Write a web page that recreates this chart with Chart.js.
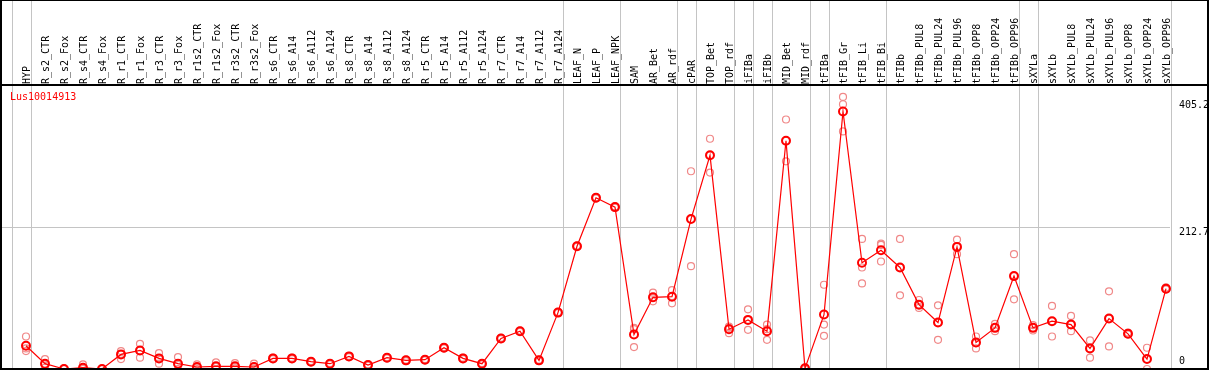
<!DOCTYPE html>
<html>
<head>
<meta charset="utf-8">
<script src="https://cdn.jsdelivr.net/npm/chart.js@4/dist/chart.umd.min.js"></script>
<style>
html,body{margin:0;padding:0;background:#fff;}
canvas{display:block;}
</style>
</head>
<body>
<canvas id="c" width="1209" height="370"></canvas>
<script>
const geneName='Lus10014913';
const categories=['HYP','R_s2_CTR','R_s2_Fox','R_s4_CTR','R_s4_Fox','R_r1_CTR','R_r1_Fox','R_r3_CTR','R_r3_Fox',
 'R_r1s2_CTR','R_r1s2_Fox','R_r3s2_CTR','R_r3s2_Fox','R_s6_CTR','R_s6_A14','R_s6_A112','R_s6_A124',
 'R_s8_CTR','R_s8_A14','R_s8_A112','R_s8_A124','R_r5_CTR','R_r5_A14','R_r5_A112','R_r5_A124',
 'R_r7_CTR','R_r7_A14','R_r7_A112','R_r7_A124','LEAF_N','LEAF_P','LEAF_NPK','SAM','AR_Bet','AR_rdf',
 'cPAR','TOP_Bet','TOP_rdf','iFIBa','iFIBb','MID_Bet','MID_rdf','tFIBa','tFIB_Gr','tFIB_Li','tFIB_Bi',
 'tFIBb','tFIBb_PUL8','tFIBb_PUL24','tFIBb_PUL96','tFIBb_OPP8','tFIBb_OPP24','tFIBb_OPP96','sXYLa',
 'sXYLb','sXYLb_PUL8','sXYLb_PUL24','sXYLb_PUL96','sXYLb_OPP8','sXYLb_OPP24','sXYLb_OPP96'];
// index of the last category in each group (separator drawn after it)
const groupEnds=[-1,0,28,31,34,35,37,38,39,41,42,45,52,53,60];
const meanVals=[35,8,0,2,0,22,28,16,8,3,4,4,3,16,16,11,8,19,6,17,13,14,32,16,8,46,57,13,85,185,258,244,
 52,108,109,226,322,60,74,57,344,1,82,388,160,179,153,97,70,184,40,62,140,62,72,67,31,76,53,15,121];
const rep1=[49,15,1,7,0,27,38,24,18,7,10,9,8,17,17,12,9,20,7,18,14,15,33,17,9,47,58,14,86,186,259,245,
 62,115,119,298,347,64,90,67,376,2,127,410,196,189,196,104,96,195,49,68,173,66,95,80,43,117,55,32,123];
const rep2=[31,7,0,1,0,22,28,16,6,2,3,3,1,16,16,11,8,19,6,17,13,14,32,16,8,46,57,13,85,185,258,244,
 60,107,110,226,322,62,74,60,344,0,67,399,153,187,153,97,70,185,39,62,140,62,72,67,31,76,53,15,121];
const rep3=[27,2,0,0,0,15,17,8,0,0,0,1,0,15,15,10,7,18,5,16,12,13,31,15,7,45,56,12,84,184,257,243,
 33,102,99,155,296,54,59,44,313,0,50,358,129,162,111,92,44,173,31,57,105,58,49,57,17,34,52,0,120];
const yTicks=[0,212.7,405.2];

const pts=a=>a.map((v,i)=>({x:i,y:v}));
const FONT='"DejaVu Sans Mono", "Liberation Mono", monospace';
const repStyle={type:'line',showLine:false,pointRadius:3.5,pointBorderWidth:1.2,
 pointBorderColor:'#f08888',pointBackgroundColor:'rgba(0,0,0,0)',order:1,clip:false};
const noPad=s=>{s.paddingLeft=0;s.paddingRight=0;s.paddingTop=0;s.paddingBottom=0;};

const decor={
  id:'decor',
  beforeDatasetsDraw(chart){
    const c=chart.ctx, x=chart.scales.x, a=chart.chartArea;
    c.save();
    c.strokeStyle='#c4c4c4';c.lineWidth=1;
    groupEnds.forEach(g=>{
      const px=Math.round(x.getPixelForValue(g+0.25))+0.5;
      c.beginPath();c.moveTo(px,0);c.lineTo(px,a.bottom);c.stroke();
    });
    c.restore();
  },
  afterDraw(chart){
    const c=chart.ctx, y=chart.scales.y, a=chart.chartArea, W=chart.width, H=chart.height;
    c.save();
    c.fillStyle='#000';
    c.fillRect(0,0,2,H);c.fillRect(0,0,W,1);c.fillRect(0,a.top-1,W,2);
    c.fillRect(0,a.bottom-1,W,2);c.fillRect(W-2,0,2,H);
    c.font='10px '+FONT;c.textBaseline='middle';c.textAlign='left';
    yTicks.forEach(v=>{
      const py=Math.min(y.getPixelForValue(v)+5,a.bottom-8);
      c.fillText(String(v),a.right+9,py);
    });
    c.fillStyle='#ff0000';
    c.fillText(geneName,a.left+8,a.top+12);
    c.restore();
  }
};

const L=2,R=1170;
new Chart(document.getElementById('c'),{
  type:'line',
  data:{datasets:[
    {data:pts(meanVals),borderColor:'#ff0000',borderWidth:1.2,pointRadius:4,pointBorderWidth:2,
     pointBorderColor:'#ff0000',pointBackgroundColor:'rgba(0,0,0,0)',order:0,clip:false,tension:0},
    Object.assign({data:pts(rep1)},repStyle),
    Object.assign({data:pts(rep2)},repStyle),
    Object.assign({data:pts(rep3)},repStyle)
  ]},
  options:{
    responsive:false,animation:false,devicePixelRatio:1,
    layout:{padding:{left:L,right:1,top:0,bottom:1},autoPadding:false},
    plugins:{legend:{display:false},tooltip:{enabled:false}},
    scales:{
      x:{type:'linear',position:'top',min:(L-26)/19,max:(R-26)/19,
         afterBuildTicks:s=>{s.ticks=categories.map((_,i)=>({value:i}));},
         afterFit:s=>{s.height=85;noPad(s);},
         grid:{display:false,drawTicks:false},border:{display:false},
         ticks:{autoSkip:false,minRotation:90,maxRotation:90,padding:1,labelOffset:13,color:'#000',
           font:{family:FONT,size:10},callback:v=>categories[v]}},
      y:{type:'linear',position:'right',min:0,max:428,
         afterBuildTicks:s=>{s.ticks=yTicks.map(v=>({value:v}));},
         afterFit:s=>{s.width=38;noPad(s);},
         border:{display:false},
         grid:{drawTicks:false,color:c=>c.tick&&c.tick.value===212.7?'#c4c4c4':'rgba(0,0,0,0)'},
         ticks:{display:false}}
    }
  },
  plugins:[decor]
});
</script>
</body>
</html>
